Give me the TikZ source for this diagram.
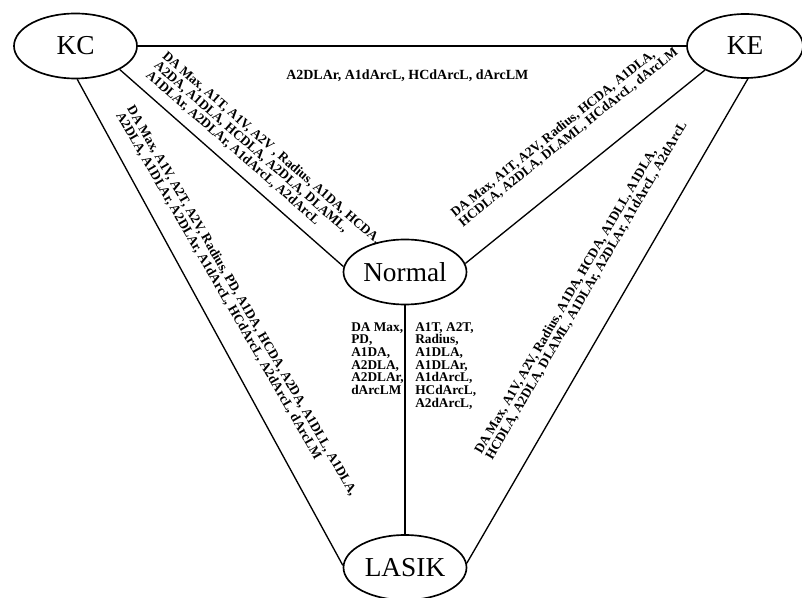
\documentclass[tikz,border=0pt]{standalone}
\usepackage{fontspec}
\setmainfont{Liberation Serif}
\usetikzlibrary{shapes.geometric}
\begin{document}
\begin{tikzpicture}[x=0.75pt,y=-0.75pt,
  state/.style={ellipse, draw, line width=1.25pt, inner sep=0pt,
    minimum width=92.25pt, minimum height=48.75pt, font=\fontsize{20.5}{24}\selectfont},
  conn/.style={line width=1pt},
  lab/.style={font=\bfseries\fontsize{10}{9.5}\selectfont, inner sep=0pt, align=left}]
\useasboundingbox (0,0) rectangle (802,598);
\node[state] (kc) at (75.5,46) {KC};
\node[state, minimum width=87pt, minimum height=48pt] (ke) at (745,46) {KE};
\node[state] (norm) at (405,272) {Normal};
\node[state] (lasik) at (405,567.5) {LASIK};
\draw[conn] (kc) -- (ke);
\draw[conn] (kc.-28) -- (norm.175);
\draw[conn] (kc.-87) -- (lasik.178);
\draw[conn] (ke.-149) -- (norm.8.5);
\draw[conn] (ke.-85) -- (lasik.4);
\draw[conn] (norm) -- (lasik);
\node[lab, font=\bfseries\fontsize{10.5}{10}\selectfont, anchor=north west] (lkcke) at (286,70) {A2DLAr, A1dArcL, HCdArcL, dArcLM};
\node[lab, rotate=-41.1, anchor=north west] (lkcn) at (168,50) {DA Max, A1T, A1V, A2V , Radius, A1DA, HCDA,\\A2DA, A1DLA, HCDLA, A2DLA, DLAML,\\A1DLAr, A2DLAr, A1dArcL, A2dArcL};
\node[lab, rotate=-60, anchor=north west] (lkcl) at (135,104) {DA Max, A1V, A2T, A2V, Radius, PD, A1DA, HCDA, A2DA, A1DLL, A1DLA,\\A2DLA, A1DLAr, A2DLAr, A1dArcL, HCdArcL, A2dArcL, dArcLM};
\node[lab, rotate=38.8, anchor=north west] (lken) at (449,210) {DA Max, A1T, A2V, Radius, HCDA, A1DLA,\\HCDLA, A2DLA, DLAML, HCdArcL, dArcLM};
\node[lab, rotate=59.9, anchor=north west] (lkel) at (473,450) {DA Max, A1V, A2V, Radius, A1DA, HCDA, A1DLL, A1DLA,\\HCDLA, A2DLA, DLAML, A1DLAr, A2DLAr, A1dArcL, A2dArcL};
\node[lab, anchor=north west] (lnl1) at (351,322) {DA Max,\\PD,\\A1DA,\\A2DLA,\\A2DLAr,\\dArcLM};
\node[lab, anchor=north west] (lnl2) at (415,322) {A1T, A2T,\\Radius,\\A1DLA,\\A1DLAr,\\A1dArcL,\\HCdArcL,\\A2dArcL,};
\end{tikzpicture}
\end{document}
